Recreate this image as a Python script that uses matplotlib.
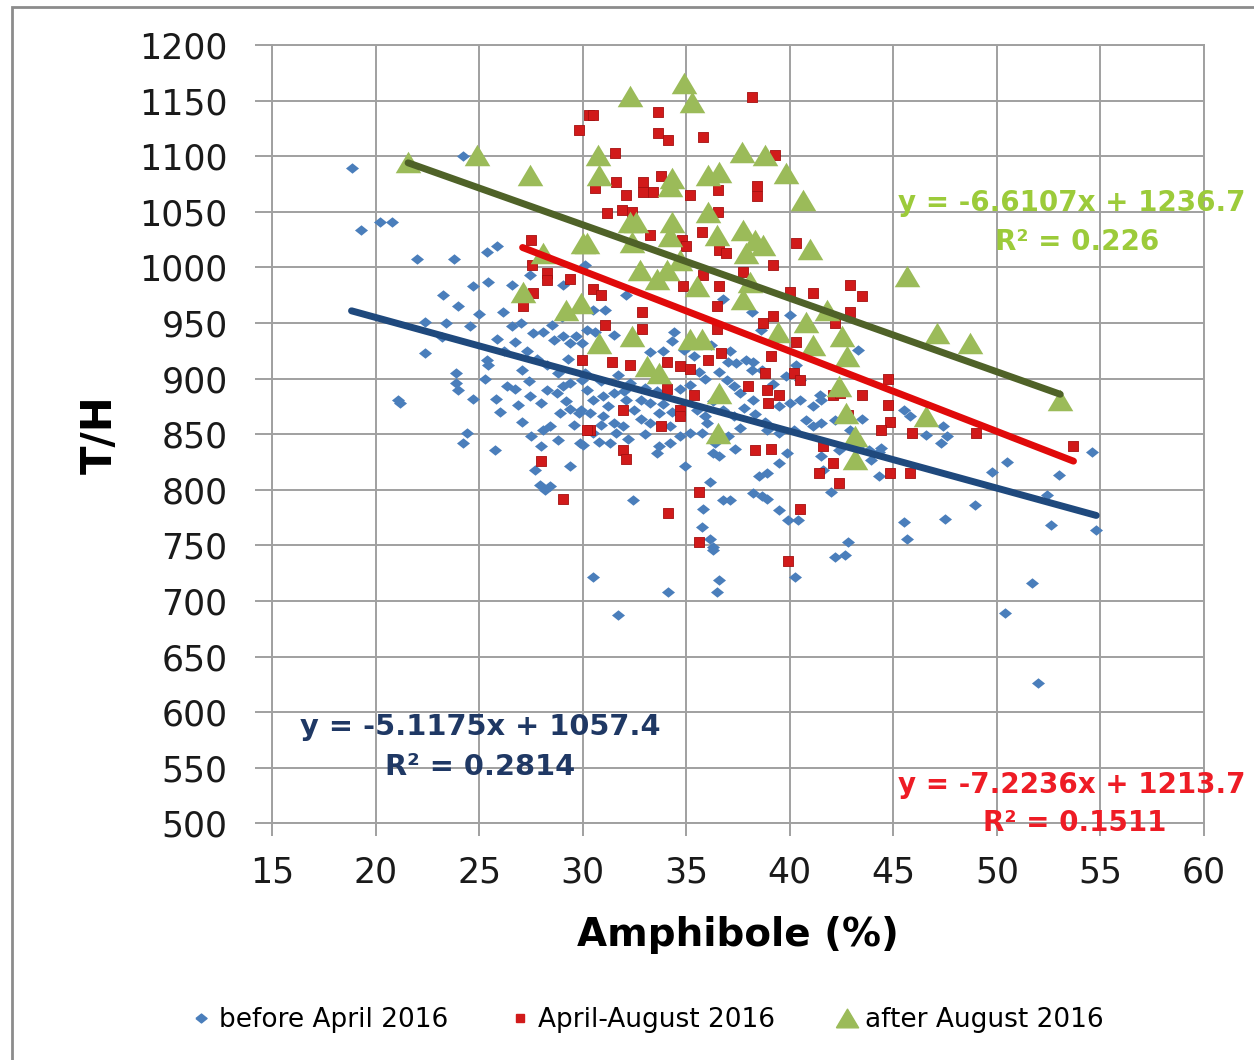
import matplotlib.pyplot as plt
from matplotlib.lines import Line2D
from matplotlib.patches import Rectangle

# before April 2016 (blue diamonds)
blue_x = [18.84, 24.23, 19.32, 20.2, 20.8, 21.98, 23.8, 25.36, 25.85, 23.27, 24.7, 25.44, 26.57, 27.45, 29.06,
          22.4, 23.4, 24.55, 26.16, 26.57, 25.85, 26.73, 22.4, 25.36, 25.44, 27.05, 27.6, 28.1, 28.6, 29.06,
          29.4, 29.7, 23.9, 23.9, 24.0, 21.1, 21.2, 24.7, 25.8, 26.33, 26.73, 27.45, 26.9, 27.05, 28.26,
          28.74, 29.06, 29.4, 28.9, 29.4, 29.8, 28.1, 28.4, 24.4, 24.23, 25.76, 28.0, 29.4, 27.7, 27.94,
          28.4, 28.2, 29.87,
          30.5, 31.1, 30.2, 30.6, 31.5, 29.95, 34.4, 36.8, 38.2, 40.0, 33.25, 37.0, 37.4, 37.9, 38.24,
          38.65, 38.2, 35.6, 35.9, 36.6, 36.96, 37.3, 34.7, 35.2, 29.95, 30.2, 30.5, 31.0, 31.5, 32.1,
          32.8, 33.25, 29.9, 30.35, 31.0, 31.5, 31.96, 30.5, 30.8, 31.3, 30.0, 32.8, 33.25, 33.7, 34.2,
          34.7, 35.2, 33.7, 34.2, 33.6, 36.0, 35.75, 36.3, 36.6, 37.36, 34.94, 38.9, 39.5, 40.2, 40.8,
          41.1, 41.5, 39.5, 40.0, 40.5, 41.1, 41.5, 38.24, 37.6, 39.85, 39.5, 38.9, 38.5, 38.24, 38.65,
          38.9, 36.15, 32.44, 36.8, 37.1, 35.8, 39.5, 39.9, 40.4, 35.75, 36.15, 36.3, 41.5,
          30.1, 30.9, 31.7, 32.3, 33.0, 33.6, 32.0, 31.2, 32.5, 33.9, 34.3, 33.0, 32.2, 31.6, 30.9,
          35.5, 35.9, 36.3, 36.8, 37.3, 37.8, 38.3, 37.6, 37.0, 36.4, 38.8, 39.2, 39.8, 40.3, 37.1,
          36.2, 35.4, 34.9, 33.9, 34.3,
          27.3, 27.8, 28.3, 28.8, 29.3, 26.2, 28.5, 29.0, 27.0, 25.0, 24.0, 23.2, 25.3, 26.0, 27.4,
          28.0, 29.2, 29.6, 28.8, 27.5, 30.1, 32.1, 38.6,
          43.3, 45.5, 45.8, 46.6, 47.4, 47.6, 47.3, 54.6, 53.0, 50.5, 49.76, 42.4, 44.3, 43.9, 44.3,
          48.95, 47.5, 45.5, 45.65, 42.8, 52.6, 54.8, 52.4, 42.65, 42.2, 51.7, 50.4, 52.0,
          40.5, 41.45, 42.2, 42.9, 43.4, 43.85, 44.4, 43.5, 41.6, 42.0,
          30.5, 31.7, 34.1, 36.6, 36.5, 36.3, 40.25]
blue_y = [1089, 1100, 1034, 1041, 1041, 1008, 1008, 1014, 1019, 975, 983, 987, 984, 993, 984,
          951, 950, 947, 960, 947, 936, 933, 923, 917, 912, 908, 941, 942, 935, 938,
          932, 938, 905, 896, 890, 881, 878, 882, 882, 893, 891, 884, 876, 861, 890,
          887, 893, 896, 869, 873, 869, 854, 857, 851, 842, 836, 839, 821, 818, 804,
          803, 800, 842,
          962, 962, 944, 942, 939, 932, 942, 972, 960, 957, 924, 915, 914, 917, 915,
          908, 908, 906, 900, 906, 899, 893, 891, 894, 899, 890, 881, 884, 887, 881,
          881, 878, 872, 869, 866, 860, 857, 851, 843, 842, 840, 864, 860, 869, 857,
          848, 851, 839, 842, 833, 860, 851, 833, 830, 837, 821, 854, 851, 854, 863,
          857, 860, 875, 878, 881, 875, 881, 881, 887, 833, 824, 815, 812, 797, 794,
          792, 807, 791, 791, 791, 783, 782, 773, 773, 767, 756, 749, 830,
          905, 898, 903, 896, 892, 889, 889, 875, 872, 877, 870, 850, 846, 851, 858,
          872, 866, 880, 872, 866, 874, 868, 856, 848, 842, 861, 895, 902, 912, 925,
          930, 920, 926, 925, 934,
          925, 918, 912, 905, 918, 925, 948, 955, 950, 958, 965, 937, 900, 870, 898,
          878, 880, 858, 845, 848, 1002, 975, 944,
          926, 872, 866, 849, 857, 848, 842, 834, 813, 825, 816, 836, 834, 827, 812,
          786, 774, 771, 756, 753, 768, 764, 795, 741, 740, 716, 689, 626,
          899, 885, 863, 854, 840, 836, 838, 864, 818, 798,
          722, 687, 708, 719, 708, 746, 722]

# April-August 2016 (red squares)
red_x = [29.8, 30.3, 27.5, 28.3, 28.3, 29.4, 27.6,
         38.2, 30.5, 33.65, 33.65, 34.1, 35.8, 31.56, 39.3, 31.6, 30.6, 32.9, 33.8, 32.1,
         32.9, 33.4, 35.2, 36.55, 38.4, 38.4, 31.16, 31.9, 32.4, 36.55, 35.75, 33.25, 34.8, 35.0,
         36.6, 36.9, 40.3, 39.2, 35.8, 37.76, 34.86, 36.6, 30.5, 30.9, 40.0, 41.1,
         42.9, 43.5, 42.9, 42.2, 44.76, 42.1, 43.5, 44.76, 44.85, 44.4, 45.9, 49.0, 53.7, 44.85,
         45.8, 42.1, 42.4,
         32.85, 36.5, 31.1, 32.85, 36.5, 38.7, 39.2, 40.3, 29.95, 31.4, 32.3, 34.06, 34.7, 35.2,
         36.07, 36.7, 39.1, 38.8, 38.9, 38.0, 39.5, 40.2, 40.5, 38.97, 42.45, 34.06, 35.4, 34.7,
         34.7, 31.96, 33.8, 30.35, 31.96, 32.1, 38.3, 39.1, 41.6, 41.4, 35.6, 34.1, 40.5, 35.6,
         27.1, 30.2, 28.0, 29.06, 39.9, 27.55, 42.8]
red_y = [1124, 1137, 1025, 995, 989, 990, 977,
         1153, 1137, 1140, 1121, 1115, 1117, 1103, 1101, 1077, 1071, 1077, 1082, 1065,
         1068, 1068, 1065, 1070, 1073, 1064, 1049, 1052, 1050, 1050, 1032, 1029, 1025, 1019,
         1016, 1013, 1022, 1002, 993, 996, 983, 983, 981, 975, 978, 977,
         984, 974, 960, 950, 900, 885, 885, 876, 861, 854, 851, 851, 839, 815,
         815, 824, 806,
         960, 965, 948, 945, 945, 950, 956, 933, 917, 915, 912, 915, 911, 909,
         917, 923, 920, 905, 890, 893, 885, 905, 899, 878, 887, 891, 885, 872,
         866, 872, 857, 854, 836, 828, 836, 837, 839, 815, 798, 779, 783, 753,
         965, 854, 826, 792, 736, 1002, 867]

# after August 2016 (green triangles)
green_x = [21.57, 24.88, 27.45, 27.1, 30.0, 28.1, 32.3, 34.9, 35.3, 30.75, 30.8, 34.3, 34.2,
           36.07, 36.6, 37.7, 38.8, 39.8, 40.65, 36.07, 32.3, 32.6, 34.3, 30.2, 32.4, 34.2, 36.5,
           37.76, 38.3, 38.7, 41.0, 32.77, 34.06, 34.7, 35.5, 33.6, 38.1, 37.9, 45.65, 42.5,
           42.75, 47.1, 48.7, 53.06, 42.4, 42.7, 46.6, 43.15, 43.15, 37.76, 40.8, 41.8, 30.8,
           32.37, 35.2, 35.75, 39.45, 41.1, 33.1, 33.7, 36.6, 36.55, 29.9, 29.2]
green_y = [1095, 1101, 1083, 978, 1022, 1013, 1154, 1166, 1149, 1101, 1083, 1080, 1073,
           1083, 1086, 1104, 1101, 1085, 1061, 1050, 1041, 1041, 1041, 1022, 1023, 1028, 1029,
           1034, 1025, 1020, 1017, 998, 998, 1007, 983, 990, 987, 1013, 992, 938,
           920, 941, 932, 881, 893, 869, 866, 848, 828, 972, 951, 962, 932,
           938, 936, 936, 942, 930, 911, 905, 887, 851, 968, 962]

# linear trendlines as printed on the chart: slope, intercept, R²
blue_fit = (-5.1175, 1057.4, 0.2814)
red_fit = (-7.2236, 1213.7, 0.1511)
green_fit = (-6.6107, 1236.7, 0.226)

labels = ["before April 2016", "April-August 2016", "after August 2016"]
x_ticks = list(range(15, 61, 5))
y_ticks = list(range(500, 1201, 50))

diamond = [(-0.5, 0), (0, 0.4), (0.5, 0), (0, -0.4), (-0.5, 0)]
triangle = [(-0.5, -0.42), (0.5, -0.42), (0, 0.42), (-0.5, -0.42)]

fig = plt.figure(figsize=(12.54, 10.6), dpi=100)
fig.patches.append(Rectangle((0.0096, -0.05), 1.2, 1.0434, transform=fig.transFigure,
                             fill=False, edgecolor="#8c8c8c", linewidth=2))

ax = fig.add_axes([0.2169, 0.2232, 0.7432, 0.7343])
ax.scatter(blue_x, blue_y, marker=diamond, s=88, color="#4A7EBB", linewidths=0, zorder=3)
ax.scatter(red_x, red_y, marker="s", s=60, facecolor="#D11A1A", edgecolor="#A50F0F",
           linewidths=0.6, zorder=4)
ax.scatter(green_x, green_y, marker=triangle, s=340, color="#9BBB59", linewidths=0, zorder=5)

# trendlines over each series' x range
for xs, fit, col in [(blue_x, blue_fit, "#1F497D"), (red_x, red_fit, "#E00A0A"),
                     (green_x, green_fit, "#4F6228")]:
    x0, x1 = min(xs), max(xs)
    ax.plot([x0, x1], [fit[0] * x0 + fit[1], fit[0] * x1 + fit[1]], color=col, lw=5,
            solid_capstyle="round", zorder=6)

ax.set_xlim(15, 60)
ax.set_ylim(500, 1200)
ax.set_xticks(x_ticks)
ax.set_yticks(y_ticks)
ax.grid(True, color="#a0a0a0", lw=1.4)
ax.set_axisbelow(True)
for sp in ax.spines.values():
    sp.set_color("#a0a0a0")
    sp.set_linewidth(1.4)
ax.tick_params(axis="y", length=12, width=1.4, color="#a0a0a0", labelsize=25, pad=20,
               labelcolor="#1a1a1a")
ax.tick_params(axis="x", length=9, width=1.4, color="#a0a0a0", labelsize=25, pad=14,
               labelcolor="#1a1a1a")

fig.text(100 / 1254, 1 - 435 / 1060, "T/H", rotation=90, ha="center", va="center",
         fontsize=30, fontweight="bold")
fig.text(738 / 1254, 1 - 935 / 1060, "Amphibole (%)", ha="center", va="center",
         fontsize=28, fontweight="bold")

# trendline equations
def eq_text(x, y, fit, col, size):
    fig.text(x[0] / 1254, 1 - y[0] / 1060, "y = %.4fx + %.1f" % (fit[0], fit[1]),
             ha="left", va="center", fontsize=size, fontweight="bold", color=col)
    fig.text(x[1] / 1254, 1 - y[1] / 1060, "R² = %s" % fit[2],
             ha="left", va="center", fontsize=size, fontweight="bold", color=col)

eq_text((898, 995), (203, 242), green_fit, "#9CCB3A", 20)
eq_text((300, 385), (727, 767), blue_fit, "#1F3864", 20.8)
eq_text((898, 983), (785, 823), red_fit, "#EE1C25", 20)

handles = [
    Line2D([], [], ls="", marker=diamond, markersize=8, color="#4A7EBB"),
    Line2D([], [], ls="", marker="s", markersize=6, color="#D11A1A"),
    Line2D([], [], ls="", marker=triangle, markersize=16, color="#9BBB59"),
]
fig.legend(handles, labels, loc="center", bbox_to_anchor=(0.515, 1 - 1020 / 1060), ncol=3,
           frameon=False, fontsize=19, handletextpad=0.2, columnspacing=2.2, handlelength=1.0)

fig.savefig("out.png", dpi=100)
